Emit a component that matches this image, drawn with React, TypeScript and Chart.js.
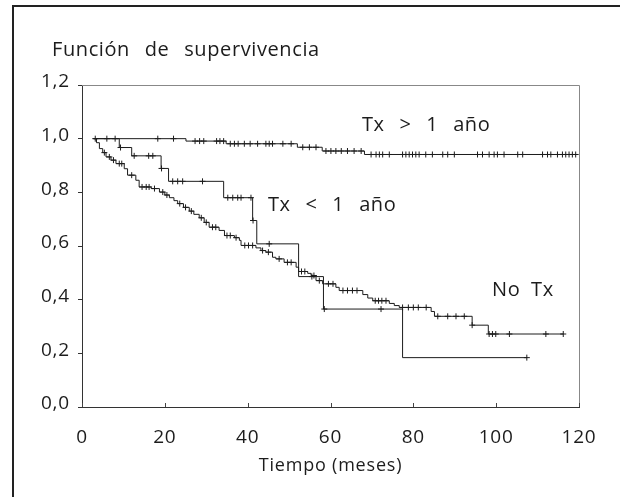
import React, { useEffect, useRef } from "react";
import { Chart, registerables } from "chart.js";

Chart.register(...registerables);

// ---------- data ----------
const xTickLabels = ["0", "20", "40", "60", "80", "100", "120"];
const yTickLabels = ["0,0", "0,2", "0,4", "0,6", "0,8", "1,0", "1,2"];

const chartTitle = "Función de supervivencia";
const xAxisTitle = "Tiempo (meses)";
const groupNames = ["Tx > 1 año", "Tx < 1 año", "No Tx"];

// Tx > 1 año
const txMayorTimes = [2.8, 25.1, 34.8, 52.0, 58.0, 68.2];
const txMayorSurv = [1.0, 0.991, 0.981, 0.968, 0.954, 0.941];
const txMayorEnd = 119.2;
const txMayorCensor = [
  6.0, 8.0, 18.3, 22.1, 27.3, 28.4, 29.4, 32.5, 33.3, 34.2, 35.8, 36.8, 37.7,
  39.2, 40.6, 42.4, 44.4, 45.2, 46.0, 48.5, 50.5, 53.3, 54.9, 56.5, 58.9, 60.1,
  61.3, 62.6, 64.1, 65.7, 67.4, 69.8, 71.0, 71.8, 72.6, 74.2, 77.4, 78.2, 79.0,
  79.8, 80.6, 81.4, 83.0, 84.6, 87.1, 88.3, 89.9, 95.5, 96.7, 98.3, 99.5, 100.3,
  101.9, 105.2, 106.4, 111.2, 112.4, 113.2, 114.8, 116.0, 116.8, 117.6, 118.4,
  119.2,
];

// Tx < 1 año
const txMenorTimes = [2.8, 9.0, 12.0, 19.1, 20.9, 34.2, 41.2, 42.2, 52.3, 58.3, 77.4];
const txMenorSurv = [1.0, 0.967, 0.936, 0.889, 0.841, 0.78, 0.695, 0.608, 0.486, 0.365, 0.184];
const txMenorEnd = 107.4;
const txMenorCensor = [
  9.3, 12.6, 16.1, 17.1, 19.2, 21.9, 23.1, 24.3, 29.1, 35.2, 36.4, 37.6, 38.4,
  40.8, 41.3, 45.2, 55.5, 58.5, 72.2, 107.4,
];

// No Tx
const noTxTimes = [
  2.8, 3.5, 4.2, 5.0, 5.8, 7.0, 8.2, 10.2, 11.0, 13.0, 13.8, 16.7, 18.7, 20.0,
  21.1, 22.2, 23.1, 24.5, 25.9, 27.0, 28.3, 29.5, 30.7, 33.1, 34.4, 36.8, 38.0,
  38.4, 42.0, 43.2, 44.4, 46.0, 46.8, 48.8, 51.7, 52.3, 54.5, 55.3, 56.5, 58.1,
  61.3, 62.1, 67.8, 69.0, 70.2, 74.2, 75.4, 76.6, 84.3, 85.1, 94.2, 98.1,
];
const noTxSurv = [
  1.0, 0.985, 0.963, 0.948, 0.932, 0.92, 0.907, 0.888, 0.864, 0.845, 0.82,
  0.814, 0.801, 0.79, 0.78, 0.769, 0.758, 0.744, 0.73, 0.718, 0.705, 0.688,
  0.67, 0.658, 0.639, 0.631, 0.621, 0.602, 0.593, 0.583, 0.577, 0.558, 0.552,
  0.539, 0.521, 0.505, 0.498, 0.49, 0.471, 0.459, 0.446, 0.434, 0.419, 0.406,
  0.396, 0.386, 0.378, 0.371, 0.356, 0.338, 0.305, 0.272,
];
const noTxEnd = 116.2;
const noTxCensor = [
  3.2, 5.4, 6.6, 7.6, 9.0, 9.6, 12.0, 14.5, 15.5, 16.2, 17.5, 19.5, 20.5, 23.6,
  25.0, 26.4, 28.8, 30.0, 31.5, 32.3, 35.0, 35.8, 37.2, 39.3, 40.2, 41.2, 43.6,
  45.0, 47.6, 49.6, 50.5, 53.0, 53.8, 56.0, 57.3, 59.5, 60.6, 63.0, 64.1, 65.3,
  66.4, 70.8, 71.6, 72.4, 73.4, 77.4, 78.8, 80.0, 81.2, 83.1, 85.9, 88.3, 90.3,
  92.3, 94.2, 98.3, 99.1, 99.9, 103.2, 112.0, 116.2,
];

// ---------- helpers ----------
function stepPoints(times: number[], surv: number[], end: number) {
  const pts = times.map((t, i) => ({ x: t, y: surv[i] }));
  pts.push({ x: end, y: surv[surv.length - 1] });
  return pts;
}
function survAt(times: number[], surv: number[], t: number) {
  let s = surv[0];
  for (let i = 0; i < times.length; i++) if (times[i] <= t) s = surv[i];
  return s;
}
function censorPoints(times: number[], surv: number[], cens: number[]) {
  return cens.map((t) => ({ x: t, y: survAt(times, surv, t) }));
}

const INK = "#1c1c1c";
const FONT = "'Open Sans', 'DejaVu Sans', sans-serif";

export default function App() {
  const ref = useRef<HTMLCanvasElement | null>(null);

  useEffect(() => {
    if (!ref.current) return;

    const lineDs = (pts: any[]) => ({
      data: pts,
      borderColor: INK,
      borderWidth: 1,
      pointRadius: 0,
      stepped: "before" as const,
      fill: false,
    });
    const censorDs = (pts: any[]) => ({
      data: pts,
      showLine: false,
      pointStyle: "cross" as const,
      pointRadius: 3,
      pointBorderColor: INK,
      pointBorderWidth: 1,
      borderColor: INK,
    });

    const decor = {
      id: "decor",
      beforeDraw(chart: any) {
        const ctx = chart.ctx;
        ctx.save();
        ctx.fillStyle = "#fff";
        ctx.fillRect(0, 0, chart.width, chart.height);
        ctx.strokeStyle = "#222";
        ctx.lineWidth = 2;
        ctx.beginPath();
        ctx.moveTo(12, 6);
        ctx.lineTo(chart.width, 6);
        ctx.moveTo(13, 5);
        ctx.lineTo(13, chart.height);
        ctx.stroke();
        ctx.restore();
        ctx.letterSpacing = "0.8px";
      },
      beforeDatasetsDraw(chart: any) {
        const { ctx, chartArea: a, scales } = chart;
        ctx.save();
        ctx.strokeStyle = "#888";
        ctx.lineWidth = 1;
        ctx.beginPath();
        ctx.moveTo(a.left, a.top + 0.5);
        ctx.lineTo(a.right + 0.5, a.top + 0.5);
        ctx.lineTo(a.right + 0.5, a.bottom);
        ctx.stroke();
        // x ticks pointing up
        ctx.strokeStyle = "#444";
        ctx.beginPath();
        xTickLabels.forEach((l) => {
          const px = Math.round(scales.x.getPixelForValue(Number(l))) + 0.5;
          ctx.moveTo(px, a.bottom);
          ctx.lineTo(px, a.bottom - 4);
        });
        ctx.stroke();
        ctx.restore();
      },
      afterDraw(chart: any) {
        const ctx = chart.ctx;
        ctx.save();
        ctx.letterSpacing = "0.6px";
        ctx.wordSpacing = "9px";
        ctx.fillStyle = INK;
        ctx.font = `20px ${FONT}`;
        ctx.textAlign = "left";
        ctx.textBaseline = "middle";
        ctx.fillText(chartTitle, 52, 50);
        ctx.fillText(groupNames[0], 362, 125);
        ctx.fillText(groupNames[1], 268, 205);
        ctx.wordSpacing = "5px";
        ctx.fillText(groupNames[2], 492, 290);
        ctx.restore();
      },
    };

    const chart = new Chart(ref.current, {
      type: "line",
      data: {
        datasets: [
          lineDs(stepPoints(txMayorTimes, txMayorSurv, txMayorEnd)),
          lineDs(stepPoints(txMenorTimes, txMenorSurv, txMenorEnd)),
          lineDs(stepPoints(noTxTimes, noTxSurv, noTxEnd)),
          censorDs(censorPoints(txMayorTimes, txMayorSurv, txMayorCensor)),
          censorDs(censorPoints(txMenorTimes, txMenorSurv, txMenorCensor)),
          censorDs(censorPoints(noTxTimes, noTxSurv, noTxCensor)),
        ] as any,
      },
      options: {
        responsive: false,
        animation: false,
        layout: { padding: { left: 0, right: 41, top: 85, bottom: 0 } },
        plugins: { legend: { display: false }, tooltip: { enabled: false } },
        scales: {
          x: {
            type: "linear",
            min: 0,
            max: 120,
            afterFit: (s: any) => {
              s.height = 90;
            },
            border: { color: "#333", width: 1 },
            grid: { drawOnChartArea: false, drawTicks: false },
            ticks: {
              stepSize: 20,
              padding: 19,
              color: INK,
              font: { family: FONT, size: 19 },
              maxRotation: 0,
              callback: (_v: any, i: number) => xTickLabels[i],
            },
            title: {
              display: true,
              text: xAxisTitle,
              color: INK,
              font: { family: FONT, size: 18 },
              padding: { top: 0, bottom: 20 },
            },
          },
          y: {
            type: "linear",
            min: 0,
            max: 1.2,
            afterFit: (s: any) => {
              s.width = 82;
            },
            border: { color: "#333", width: 1 },
            grid: { drawOnChartArea: false, drawTicks: true, tickLength: 4, color: "#333" },
            ticks: {
              stepSize: 0.2,
              padding: 8,
              labelOffset: -3,
              color: INK,
              font: { family: FONT, size: 19 },
              callback: (_v: any, i: number) => yTickLabels[i],
            },
          },
        },
      },
      plugins: [decor],
    });

    return () => chart.destroy();
  }, []);

  return (
    <div style={{ position: "absolute", left: 0, top: 0, width: 620, height: 497, background: "#fff" }}>
      <canvas ref={ref} width={620} height={497} style={{ display: "block" }} />
    </div>
  );
}
